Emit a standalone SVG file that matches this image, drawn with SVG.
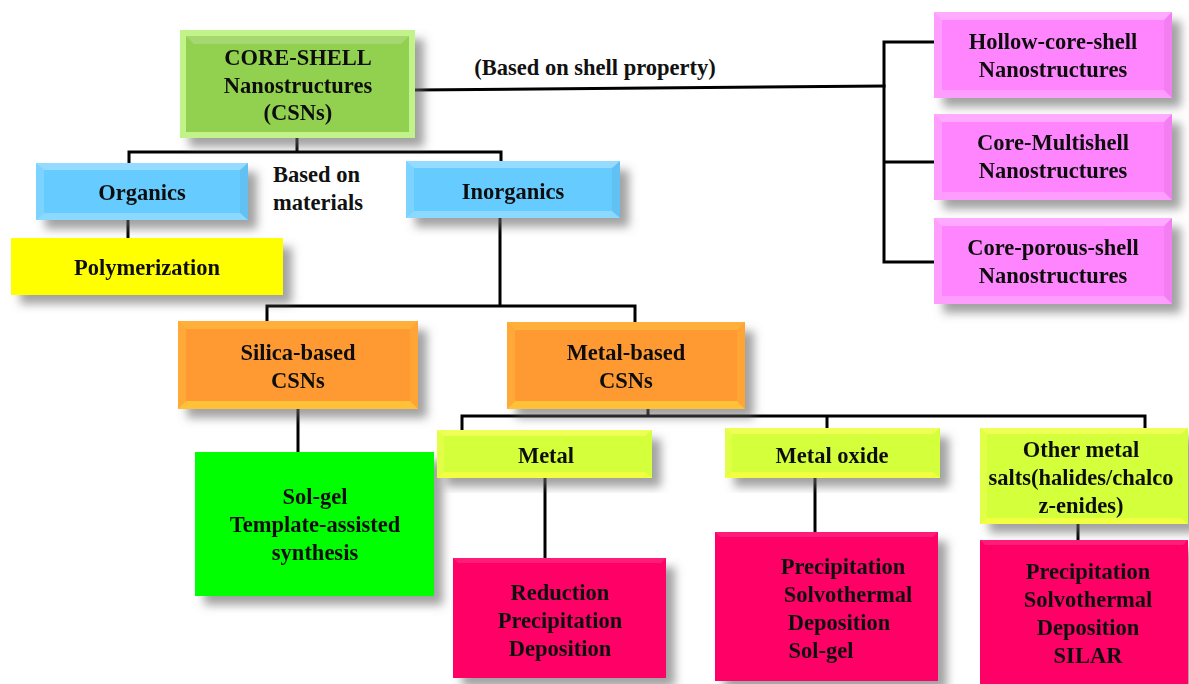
<svg xmlns="http://www.w3.org/2000/svg" width="1189" height="684" viewBox="0 0 1189 684">
  <defs>
    <filter id="shadow" x="-10%" y="-10%" width="130%" height="140%">
      <feDropShadow dx="9" dy="9" stdDeviation="5" flood-color="#666" flood-opacity="0.6"/>
    </filter>
  </defs>
  <style>
    .t { font-family: "Liberation Serif", "Times New Roman", serif; font-weight: bold; font-size: 22.5px; fill: #111; text-anchor: middle; }
    .tl { text-anchor: start; }
    .ln { stroke: #000; stroke-width: 3; fill: none; stroke-linecap: square; }
    .hl { fill: #fff; }
    .dk { fill: #000; }
  </style>

  <rect width="1189" height="684" fill="#fff"/>

  <!-- connectors -->
  <g id="connectors" class="ln">
    <path d="M415 90 L884 86"/>
    <path d="M884 42 V262 M884 42 H934 M884 162 H934 M884 262 H934"/>
    <path d="M297 138 V152 M129 163 V152 H501 V161"/>
    <path d="M128 220 V238"/>
    <path d="M500 218 V306 M267 321 V306 H635 V322"/>
    <path d="M298 409 V452"/>
    <path d="M648 409 V416 M462 430 V416 H1145 V428 M827 416 V428"/>
    <path d="M545 478 V558"/>
    <path d="M815 478 V532"/>
    <path d="M1078 524 V540"/>
  </g>

  <!-- root -->
  <g id="core-shell" filter="url(#shadow)">
    <rect x="180" y="30" width="235" height="108" fill="#c2f28a"/>
    <rect x="186" y="36" width="223" height="96" fill="#92d050"/>
    <polygon class="hl" opacity="0.18" points="186,36 409,36 401,44 194,44"/>
    <text class="t" x="298" y="65">CORE-SHELL</text>
    <text class="t" x="298" y="93">Nanostructures</text>
    <text class="t" x="298" y="120">(CSNs)</text>
  </g>

  <text class="t" x="595" y="75">(Based on shell property)</text>
  <text class="t tl" x="273" y="182">Based on</text>
  <text class="t tl" x="273" y="210">materials</text>

  <!-- shell-property branch -->
  <g id="hollow" filter="url(#shadow)">
    <rect x="934" y="12" width="238" height="86" fill="#ff85ff"/>
    <polygon class="hl" opacity="0.3" points="934,12 1172,12 1164,20 942,20"/>
    <polygon class="hl" opacity="0.2" points="934,12 942,20 942,90 934,98"/>
    <polygon class="hl" opacity="0.2" points="934,98 942,90 1164,90 1172,98"/>
    <polygon class="dk" opacity="0.05" points="1172,12 1164,20 1164,90 1172,98"/>
    <text class="t" x="1053" y="49">Hollow-core-shell</text>
    <text class="t" x="1053" y="77">Nanostructures</text>
  </g>
  <g id="multishell" filter="url(#shadow)">
    <rect x="934" y="114" width="238" height="86" fill="#ff85ff"/>
    <polygon class="hl" opacity="0.3" points="934,114 1172,114 1164,122 942,122"/>
    <polygon class="hl" opacity="0.2" points="934,114 942,122 942,192 934,200"/>
    <polygon class="hl" opacity="0.2" points="934,200 942,192 1164,192 1172,200"/>
    <polygon class="dk" opacity="0.05" points="1172,114 1164,122 1164,192 1172,200"/>
    <text class="t" x="1053" y="150">Core-Multishell</text>
    <text class="t" x="1053" y="178">Nanostructures</text>
  </g>
  <g id="porous" filter="url(#shadow)">
    <rect x="934" y="218" width="238" height="86" fill="#ff85ff"/>
    <polygon class="hl" opacity="0.3" points="934,218 1172,218 1164,226 942,226"/>
    <polygon class="hl" opacity="0.2" points="934,218 942,226 942,296 934,304"/>
    <polygon class="hl" opacity="0.2" points="934,304 942,296 1164,296 1172,304"/>
    <polygon class="dk" opacity="0.05" points="1172,218 1164,226 1164,296 1172,304"/>
    <text class="t" x="1053" y="255">Core-porous-shell</text>
    <text class="t" x="1053" y="283">Nanostructures</text>
  </g>

  <!-- material branch -->
  <g id="organics" filter="url(#shadow)">
    <rect x="36" y="163" width="212" height="57" fill="#66ccff"/>
    <polygon class="hl" opacity="0.3" points="36,163 248,163 240,170 44,170"/>
    <polygon class="hl" opacity="0.15" points="36,163 44,170 44,213 36,220"/>
    <polygon class="hl" opacity="0.25" points="36,220 44,213 240,213 248,220"/>
    <polygon class="dk" opacity="0.05" points="248,163 240,170 240,213 248,220"/>
    <text class="t" x="142" y="200">Organics</text>
  </g>
  <g id="polymerization" filter="url(#shadow)">
    <rect x="11" y="238" width="272" height="57" fill="#ffff00"/>
    <text class="t" x="147" y="275">Polymerization</text>
  </g>
  <g id="inorganics" filter="url(#shadow)">
    <rect x="406" y="161" width="214" height="57" fill="#66ccff"/>
    <polygon class="hl" opacity="0.3" points="406,161 620,161 612,168 414,168"/>
    <polygon class="hl" opacity="0.15" points="406,161 414,168 414,211 406,218"/>
    <polygon class="hl" opacity="0.25" points="406,218 414,211 612,211 620,218"/>
    <polygon class="dk" opacity="0.05" points="620,161 612,168 612,211 620,218"/>
    <text class="t" x="513" y="199">Inorganics</text>
  </g>

  <!-- inorganic sub-types -->
  <g id="silica" filter="url(#shadow)">
    <rect x="178" y="321" width="240" height="88" fill="#ff9933"/>
    <polygon fill="#ffc040" opacity="0.6" points="178,321 418,321 410,329 186,329"/>
    <polygon fill="#ffc040" opacity="0.4" points="178,321 186,329 186,401 178,409"/>
    <polygon fill="#ffd23a" opacity="0.7" points="178,409 186,401 410,401 418,409"/>
    <polygon fill="#ffc040" opacity="0.3" points="418,321 410,329 410,401 418,409"/>
    <text class="t" x="298" y="360">Silica-based</text>
    <text class="t" x="298" y="388">CSNs</text>
  </g>
  <g id="metal-based" filter="url(#shadow)">
    <rect x="507" y="322" width="238" height="87" fill="#ff9933"/>
    <polygon fill="#ffc040" opacity="0.6" points="507,322 745,322 737,330 515,330"/>
    <polygon fill="#ffc040" opacity="0.4" points="507,322 515,330 515,401 507,409"/>
    <polygon fill="#ffd23a" opacity="0.7" points="507,409 515,401 737,401 745,409"/>
    <polygon fill="#ffc040" opacity="0.3" points="745,322 737,330 737,401 745,409"/>
    <text class="t" x="626" y="360">Metal-based</text>
    <text class="t" x="626" y="388">CSNs</text>
  </g>
  <g id="silica-methods" filter="url(#shadow)">
    <rect x="195" y="452" width="239" height="144" fill="#00ff00"/>
    <text class="t" x="315" y="504">Sol-gel</text>
    <text class="t" x="315" y="532">Template-assisted</text>
    <text class="t" x="315" y="560">synthesis</text>
  </g>

  <!-- metal-based sub-types -->
  <g id="metal" filter="url(#shadow)">
    <rect x="437" y="430" width="215" height="48" fill="#d4ff3a"/>
    <polygon fill="#ffff66" opacity="0.6" points="437,430 652,430 645,436 444,436"/>
    <polygon fill="#ffff66" opacity="0.3" points="437,430 444,436 444,472 437,478"/>
    <polygon fill="#ffff44" opacity="0.7" points="437,478 444,472 645,472 652,478"/>
    <text class="t" x="546" y="463">Metal</text>
  </g>
  <g id="metal-oxide" filter="url(#shadow)">
    <rect x="725" y="428" width="215" height="50" fill="#d4ff3a"/>
    <polygon fill="#ffff66" opacity="0.6" points="725,428 940,428 933,434 732,434"/>
    <polygon fill="#ffff66" opacity="0.3" points="725,428 732,434 732,472 725,478"/>
    <polygon fill="#ffff44" opacity="0.7" points="725,478 732,472 933,472 940,478"/>
    <text class="t" x="832" y="463">Metal oxide</text>
  </g>
  <g id="other-salts" filter="url(#shadow)">
    <rect x="980" y="428" width="208" height="96" fill="#d4ff3a"/>
    <polygon fill="#ffff66" opacity="0.6" points="980,428 1188,428 1181,434 987,434"/>
    <polygon fill="#ffff66" opacity="0.3" points="980,428 987,434 987,518 980,524"/>
    <polygon fill="#ffff44" opacity="0.7" points="980,524 987,518 1181,518 1188,524"/>
    <text class="t" x="1081" y="457">Other metal</text>
    <text class="t" x="1081" y="485">salts(halides/chalco</text>
    <text class="t" x="1081" y="513">z-enides)</text>
  </g>

  <!-- synthesis methods -->
  <g id="metal-methods" filter="url(#shadow)">
    <rect x="453" y="558" width="213" height="120" fill="#ff0066"/>
    <polygon class="hl" opacity="0.12" points="453,558 666,558 661,563 458,563"/>
    <text class="t" x="560" y="600">Reduction</text>
    <text class="t" x="560" y="628">Precipitation</text>
    <text class="t" x="560" y="656">Deposition</text>
  </g>
  <g id="oxide-methods" filter="url(#shadow)">
    <rect x="715" y="532" width="223" height="149" fill="#ff0066"/>
    <polygon class="hl" opacity="0.12" points="715,532 938,532 933,537 720,537"/>
    <text class="t" x="843" y="574">Precipitation</text>
    <text class="t" x="848" y="602">Solvothermal</text>
    <text class="t" x="839" y="630">Deposition</text>
    <text class="t" x="821" y="658">Sol-gel</text>
  </g>
  <g id="salt-methods" filter="url(#shadow)">
    <rect x="980" y="540" width="208" height="144" fill="#ff0066"/>
    <polygon class="hl" opacity="0.12" points="980,540 1188,540 1183,545 985,545"/>
    <text class="t" x="1088" y="579">Precipitation</text>
    <text class="t" x="1088" y="607">Solvothermal</text>
    <text class="t" x="1088" y="635">Deposition</text>
    <text class="t" x="1088" y="663">SILAR</text>
  </g>
</svg>
